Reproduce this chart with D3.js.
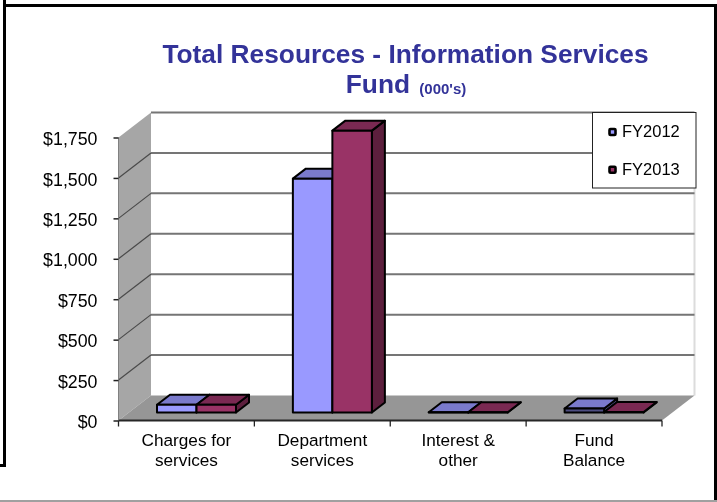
<!DOCTYPE html>
<html><head><meta charset="utf-8">
<script src="https://cdnjs.cloudflare.com/ajax/libs/d3/7.8.5/d3.min.js"></script>
<style>html,body{margin:0;padding:0;background:#fff}svg{display:block;filter:blur(0.35px)}text{font-family:"Liberation Sans",Arial,sans-serif}</style>
</head><body><div id="c"></div>
<script>
const categories = [["Charges for","services"],["Department","services"],["Interest &","other"],["Fund","Balance"]];
const seriesNames = ["FY2012","FY2013"];
const fy2012 = [48,1446,2,25];
const fy2013 = [48,1743,2,3];
const tickValues = [0,250,500,750,1000,1250,1500,1750];
const frontColors = ["#9999ff","#993366"];
const topColors = ["#7a7acc","#7a2952"];
const sideColors = ["#4d4d80","#5c1f3d"];

const W=717,H=502;
const svg=d3.select("#c").append("svg").attr("width",W).attr("height",H);
const y=d3.scaleLinear().domain([0,1750]).range([420.5,137.5]);
const x=d3.scaleBand().domain(d3.range(categories.length)).range([118.5,662]);
const xs=d3.scaleBand().domain(d3.range(seriesNames.length)).range([38.5,117.5]);
const depth={x:32.5,y:-25}, bar={x:13,y:-10}, shift={x:0,y:-8};
const [x0,x1]=x.range();
const pts=a=>a.map(p=>p.join(",")).join(" ");

// frame
const frame=[[[4.5,0],[4.5,465.5]],[[0,465.5],[6,465.5]],[[3,5.5],[716,5.5]],[[715.5,4],[715.5,500]]];
frame.forEach(f=>svg.append("line").attr("x1",f[0][0]).attr("y1",f[0][1]).attr("x2",f[1][0]).attr("y2",f[1][1]).attr("stroke","#000").attr("stroke-width",3));
svg.append("line").attr("x1",0).attr("x2",717).attr("y1",501).attr("y2",501).attr("stroke","#808080").attr("stroke-width",1.5);

// title
const t=svg.append("text").attr("text-anchor","middle").attr("fill","#333399").attr("font-weight","bold");
t.append("tspan").attr("x",405.5).attr("y",63).attr("font-size",26.3).text("Total Resources - Information Services");
const t2=svg.append("text").attr("text-anchor","middle").attr("fill","#333399").attr("font-weight","bold").attr("x",406).attr("y",93);
t2.append("tspan").attr("font-size",26.3).text("Fund ");
t2.append("tspan").attr("font-size",15).attr("dx",2).attr("dy",1).text("(000's)");

// walls
const yTop=y(1750),y0=y(0);
svg.append("polygon").attr("points",pts([[x0+depth.x,yTop+depth.y],[x1+depth.x,yTop+depth.y],[x1+depth.x,y0+depth.y],[x0+depth.x,y0+depth.y]])).attr("fill","#fff");
svg.append("line").attr("x1",x1+depth.x).attr("x2",x1+depth.x).attr("y1",yTop+depth.y).attr("y2",y0+depth.y).attr("stroke","#dcdcdc").attr("stroke-width",2);
svg.append("polygon").attr("points",pts([[x0,yTop],[x0+depth.x,yTop+depth.y],[x0+depth.x,y0+depth.y],[x0,y0]])).attr("fill","#a6a6a6");
svg.append("polygon").attr("points",pts([[x0,y0],[x0+depth.x,y0+depth.y],[x1+depth.x,y0+depth.y],[x1,y0]])).attr("fill","#969696");

// gridlines
tickValues.slice(1).forEach(v=>{
  const g=svg.append("g").attr("fill","none");
  g.append("polyline").attr("points",pts([[x0+depth.x,y(v)+depth.y],[x1+depth.x,y(v)+depth.y]])).attr("stroke","#757575").attr("stroke-width",2);
  if(v<1750) g.append("line").attr("x1",x0).attr("y1",y(v)).attr("x2",x0+depth.x).attr("y2",y(v)+depth.y).attr("stroke","#4a4a4a").attr("stroke-width",1.2);
});

// bars
const data=seriesNames.map((n,s)=>[fy2012,fy2013][s].map((v,c)=>({v,c,s})));
const flat=d3.merge(d3.range(categories.length).map(c=>data.map(d=>d[c])));
const g=svg.selectAll("g.b").data(flat).join("g").attr("class","b").attr("stroke","#000").attr("stroke-width",2).attr("stroke-linejoin","round");
g.each(function(d){
  const l=x(d.c)+xs(d.s)+shift.x, r=l+xs.bandwidth(), b=y0+shift.y, tp=y(d.v)+shift.y;
  const sel=d3.select(this);
  sel.append("polygon").attr("points",pts([[r,b],[r+bar.x,b+bar.y],[r+bar.x,tp+bar.y],[r,tp]])).attr("fill",sideColors[d.s]);
  sel.append("polygon").attr("points",pts([[l,tp],[l+bar.x,tp+bar.y],[r+bar.x,tp+bar.y],[r,tp]])).attr("fill",topColors[d.s]);
  sel.append("rect").attr("x",l).attr("y",tp).attr("width",r-l).attr("height",Math.max(b-tp,0)).attr("fill",d.v<30?sideColors[d.s]:frontColors[d.s]);
});

// axes
svg.append("line").attr("x1",x0).attr("x2",x1).attr("y1",y0).attr("y2",y0).attr("stroke","#262626").attr("stroke-width",2);
svg.append("line").attr("x1",x0).attr("x2",x0).attr("y1",yTop).attr("y2",y0).attr("stroke","#808080").attr("stroke-width",1);
const ya=d3.axisLeft(y).tickValues(tickValues).tickSize(5).tickPadding(16).tickFormat(d3.format("$,"));
const ga=svg.append("g").attr("transform",`translate(${x0},0)`).call(ya);
ga.select(".domain").remove();
ga.selectAll("line").attr("stroke","#222").attr("stroke-width",1.5);
ga.selectAll("text").attr("font-size",17.8).attr("fill","#000").attr("dy","0.40em");
d3.range(categories.length+1).forEach(i=>{
  const tx=x0+i*x.step();
  svg.append("line").attr("x1",tx).attr("x2",tx).attr("y1",y0).attr("y2",y0+6).attr("stroke","#222").attr("stroke-width",1.3);
});
categories.forEach((lines,i)=>{
  const tx=svg.append("text").attr("text-anchor","middle").attr("font-size",17.2).attr("fill","#000");
  lines.forEach((s,k)=>tx.append("tspan").attr("x",x(i)+x.bandwidth()/2).attr("y",446+k*20).text(s));
});

// legend
svg.append("rect").attr("x",592.5).attr("y",112.5).attr("width",103.5).attr("height",75.5).attr("fill","#fff").attr("stroke","#222").attr("stroke-width",1);
seriesNames.forEach((n,i)=>{
  const cy=132+i*37.7;
  svg.append("rect").attr("x",609.5).attr("y",cy-3).attr("width",6).attr("height",6).attr("fill",frontColors[i]).attr("stroke","#000").attr("stroke-width",2.6).attr("rx",1);
  svg.append("text").attr("x",622).attr("y",cy+5).attr("font-size",16.5).attr("fill","#000").text(n);
});
</script></body></html>
